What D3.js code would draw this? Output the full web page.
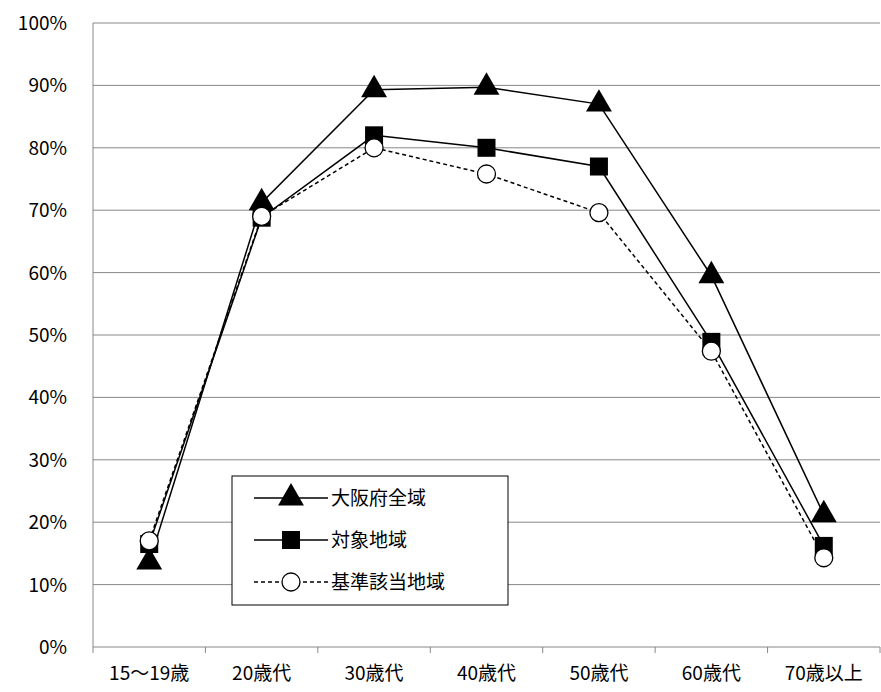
<!DOCTYPE html>
<html><head><meta charset="utf-8">
<script src="https://cdn.jsdelivr.net/npm/d3@7"></script>
<style>body{margin:0;background:#fff}text{font-family:"Noto Sans CJK JP","Liberation Sans",sans-serif;font-size:19px;fill:#000}</style>
</head><body><svg id="c" width="881" height="692"></svg>
<script>
const categories = ["15〜19歳", "20歳代", "30歳代", "40歳代", "50歳代", "60歳代", "70歳以上"];
const osaka = [13.6, 71.2, 89.3, 89.7, 87.0, 59.5, 21.2];
const target = [16.5, 68.8, 82.0, 80.0, 77.0, 48.9, 16.2];
const base = [17.0, 69.0, 80.0, 75.8, 69.6, 47.4, 14.3];
const yTicks = [0, 10, 20, 30, 40, 50, 60, 70, 80, 90, 100];

const svg = d3.select("#c");
const pLeft = 93, pRight = 880, pTop = 23, pBottom = 647;
const x = d3.scaleBand().domain(categories).range([pLeft, pRight]);
const y = d3.scaleLinear().domain([0, 100]).range([pBottom, pTop]);

svg.append("g").selectAll("line").data(yTicks).enter().append("line")
  .attr("x1", pLeft).attr("x2", pRight).attr("y1", d => y(d)).attr("y2", d => y(d))
  .attr("stroke", "#888").attr("stroke-width", 1);
svg.append("line").attr("x1", pLeft).attr("x2", pLeft).attr("y1", pTop).attr("y2", pBottom).attr("stroke", "#888");
svg.append("g").selectAll("line").data(categories.concat(["end"])).enter().append("line")
  .attr("x1", (d, i) => pLeft + i * x.bandwidth()).attr("x2", (d, i) => pLeft + i * x.bandwidth())
  .attr("y1", pBottom).attr("y2", pBottom + 6).attr("stroke", "#888");
svg.append("g").selectAll("text").data(yTicks).enter().append("text")
  .attr("x", pLeft - 26).attr("y", d => y(d) + 7).attr("text-anchor", "end").text(d => d + "%");
svg.append("g").selectAll("text").data(categories).enter().append("text")
  .attr("x", d => x(d) + x.bandwidth() / 2).attr("y", 680).attr("text-anchor", "middle").text(d => d);

const cx = (d, i) => x(categories[i]) + x.bandwidth() / 2;
const line = d3.line().x(cx).y(d => y(d));
function series(data, dash) {
  svg.append("path").datum(data).attr("d", line).attr("fill", "none")
    .attr("stroke", "#000").attr("stroke-width", 1.5).attr("stroke-dasharray", dash);
}
series(osaka, null); series(target, null); series(base, "4,3");

const tri = d3.symbol().type(d3.symbolTriangle).size(290);
function triangles(g, pts) {
  g.selectAll("path.t").data(pts).enter().append("path").attr("d", tri)
    .attr("transform", d => `translate(${d[0]},${d[1]})`).attr("fill", "#000");
}
function squares(g, pts) {
  g.selectAll("rect.s").data(pts).enter().append("rect")
    .attr("x", d => d[0] - 9).attr("y", d => d[1] - 9).attr("width", 18).attr("height", 18).attr("fill", "#000");
}
function circles(g, pts) {
  g.selectAll("circle.c").data(pts).enter().append("circle")
    .attr("cx", d => d[0]).attr("cy", d => d[1]).attr("r", 9)
    .attr("fill", "#fff").attr("stroke", "#000").attr("stroke-width", 1.3);
}
const pts = arr => arr.map((d, i) => [cx(d, i), y(d)]);
triangles(svg.append("g"), pts(osaka));
squares(svg.append("g"), pts(target));
circles(svg.append("g"), pts(base));

// legend
const lg = svg.append("g").attr("transform", "translate(232,476)");
lg.append("rect").attr("width", 276).attr("height", 129).attr("fill", "#fff").attr("stroke", "#000");
const names = ["大阪府全域", "対象地域", "基準該当地域"];
const draws = [triangles, squares, circles];
names.forEach((n, i) => {
  const yy = 22 + i * 42;
  lg.append("line").attr("x1", 22).attr("x2", 96).attr("y1", yy).attr("y2", yy)
    .attr("stroke", "#000").attr("stroke-width", 1.5).attr("stroke-dasharray", i === 2 ? "4,3" : null);
  draws[i](lg.append("g"), [[59, yy]]);
  lg.append("text").attr("x", 99).attr("y", yy + 7).text(n);
});
</script></body></html>
